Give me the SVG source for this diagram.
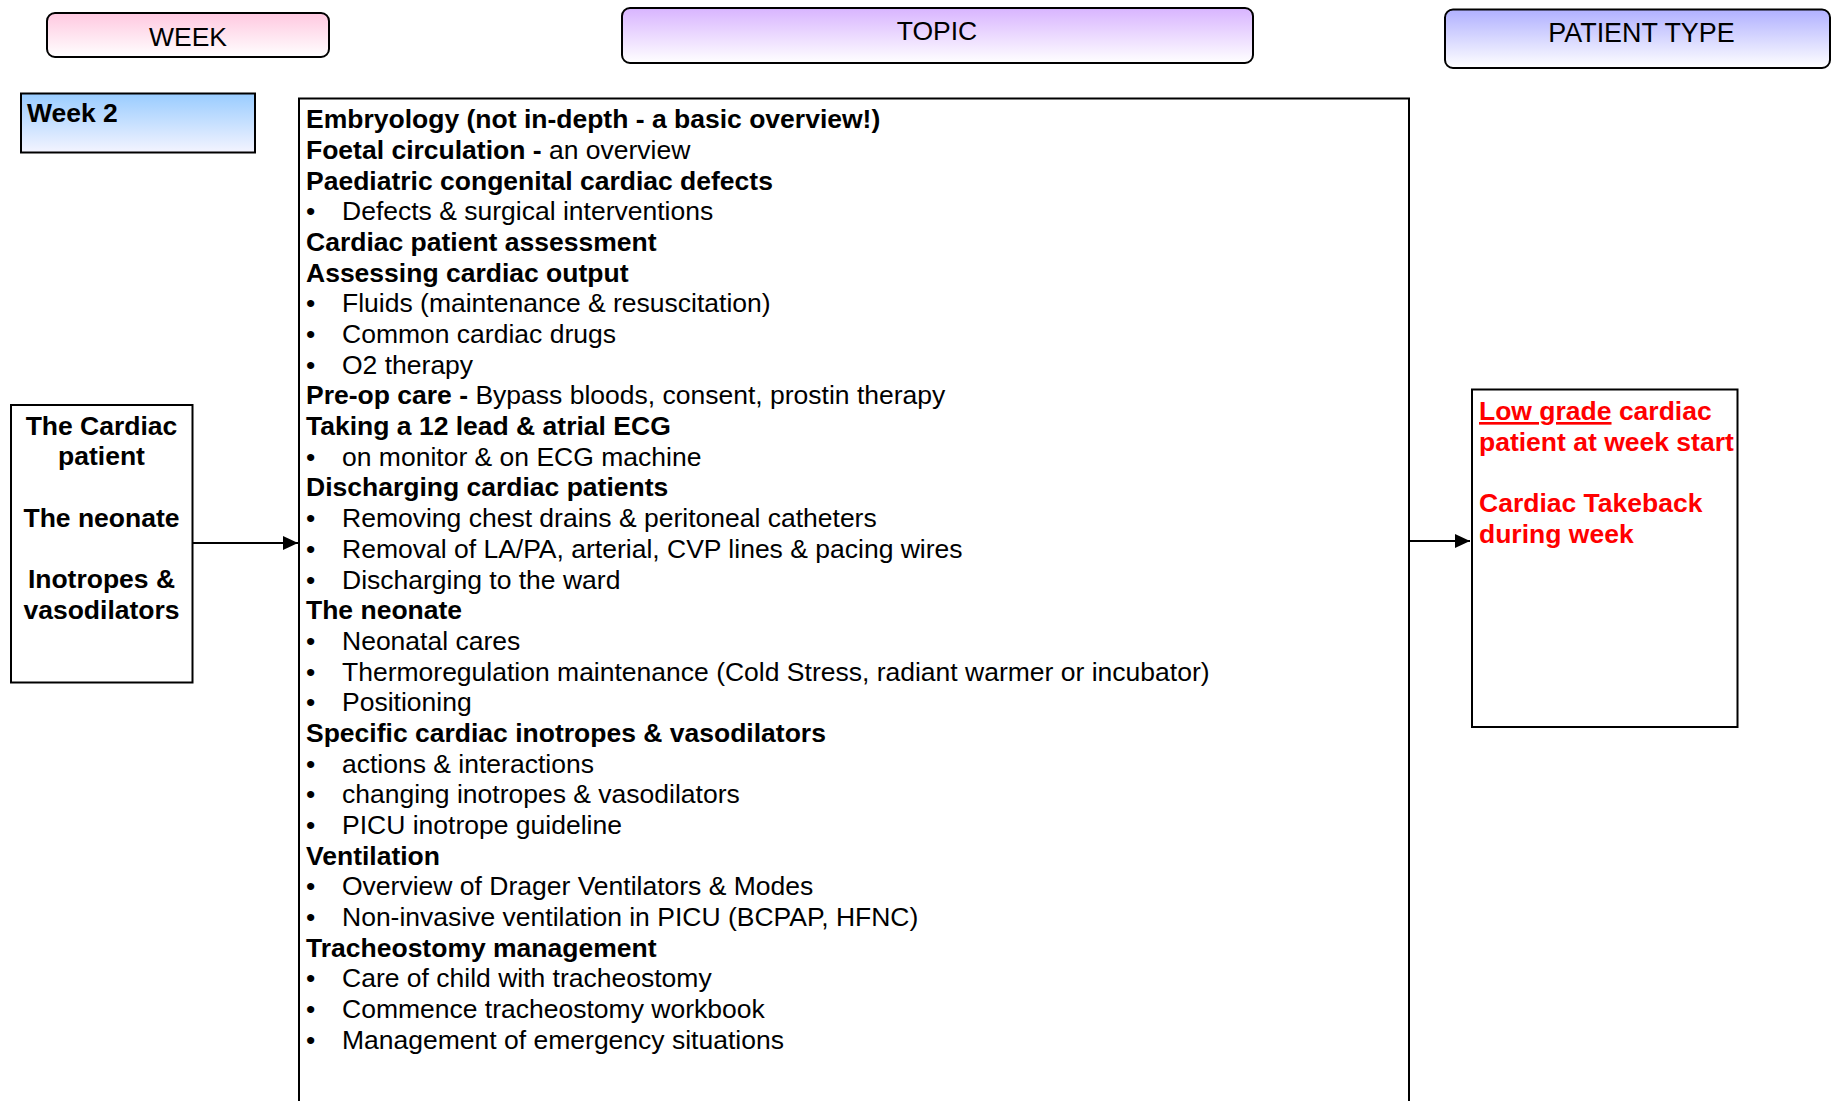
<svg xmlns="http://www.w3.org/2000/svg" width="1832" height="1101" viewBox="0 0 1832 1101">
<style>
text{font-family:"Liberation Sans",Arial,sans-serif;font-size:26.5px;fill:#000}
.b{font-weight:bold}
.r{fill:#ff0000;font-weight:bold}
.m{text-anchor:middle}
.box{fill:#fff;stroke:#000;stroke-width:2}
.hdr{stroke:#000;stroke-width:2}
.c{stroke:#000;stroke-width:2;fill:none}
</style>
<defs>
<linearGradient id="gPink" x1="0" y1="0" x2="0" y2="1"><stop offset="0" stop-color="#ffc8e0"/><stop offset="1" stop-color="#ffffff"/></linearGradient>
<linearGradient id="gPurple" x1="0" y1="0" x2="0" y2="1"><stop offset="0" stop-color="#d8b4ff"/><stop offset="1" stop-color="#ffffff"/></linearGradient>
<linearGradient id="gBlue" x1="0" y1="0" x2="0" y2="1"><stop offset="0" stop-color="#b0b0ff"/><stop offset="1" stop-color="#ffffff"/></linearGradient>
<linearGradient id="gSky" x1="0" y1="0" x2="0" y2="1"><stop offset="0" stop-color="#99ccff"/><stop offset="1" stop-color="#f4f4ff"/></linearGradient>
<marker id="ah" markerUnits="userSpaceOnUse" markerWidth="15" markerHeight="14" refX="15" refY="7" orient="auto"><path d="M0,0 L15,7 L0,14 z" fill="#000"/></marker>
</defs>

<g id="hdr-week">
<rect class="hdr" x="47" y="13" width="282" height="44" rx="8" fill="url(#gPink)"/>
<text class="m" x="188" y="46">WEEK</text>
</g>
<g id="hdr-topic">
<rect class="hdr" x="622" y="8" width="631" height="55" rx="8" fill="url(#gPurple)"/>
<text class="m" x="937" y="39.5">TOPIC</text>
</g>
<g id="hdr-patient">
<rect class="hdr" x="1445" y="9.5" width="385" height="58.5" rx="8" fill="url(#gBlue)"/>
<text class="m" x="1641.5" y="41.7" style="font-size:26.9px">PATIENT TYPE</text>
</g>

<g id="week2">
<rect x="21" y="93.5" width="234" height="59" fill="url(#gSky)" stroke="#000" stroke-width="2"/>
<text class="b" x="27" y="122">Week 2</text>
</g>

<g id="themes">
<rect class="box" x="11" y="405" width="181.5" height="277.5"/>
<text class="b m" x="101.5" y="434.5">The Cardiac</text>
<text class="b m" x="101.5" y="465.2">patient</text>
<text class="b m" x="101.5" y="526.6">The neonate</text>
<text class="b m" x="101.5" y="588">Inotropes &amp;</text>
<text class="b m" x="101.5" y="618.7">vasodilators</text>
</g>

<g id="topics">
<rect class="box" x="299" y="98.5" width="1110" height="1020"/>
<g transform="translate(0,1.2)">
<text class="b" x="306" y="127">Embryology (not in-depth - a basic overview!)</text>
<text x="306" y="157.7"><tspan class="b">Foetal circulation - </tspan>an overview</text>
<text class="b" x="306" y="188.4">Paediatric congenital cardiac defects</text>
<text x="306" y="219.1">•</text><text x="342" y="219.1">Defects &amp; surgical interventions</text>
<text class="b" x="306" y="249.8">Cardiac patient assessment</text>
<text class="b" x="306" y="280.5">Assessing cardiac output</text>
<text x="306" y="311.1">•</text><text x="342" y="311.1">Fluids (maintenance &amp; resuscitation)</text>
<text x="306" y="341.8">•</text><text x="342" y="341.8">Common cardiac drugs</text>
<text x="306" y="372.5">•</text><text x="342" y="372.5">O2 therapy</text>
<text x="306" y="403.2"><tspan class="b">Pre-op care - </tspan>Bypass bloods, consent, prostin therapy</text>
<text class="b" x="306" y="433.9">Taking a 12 lead &amp; atrial ECG</text>
<text x="306" y="464.6">•</text><text x="342" y="464.6">on monitor &amp; on ECG machine</text>
<text class="b" x="306" y="495.3">Discharging cardiac patients</text>
<text x="306" y="526">•</text><text x="342" y="526">Removing chest drains &amp; peritoneal catheters</text>
<text x="306" y="556.7">•</text><text x="342" y="556.7">Removal of LA/PA, arterial, CVP lines &amp; pacing wires</text>
<text x="306" y="587.4">•</text><text x="342" y="587.4">Discharging to the ward</text>
<text class="b" x="306" y="618">The neonate</text>
<text x="306" y="648.7">•</text><text x="342" y="648.7">Neonatal cares</text>
<text x="306" y="679.4">•</text><text x="342" y="679.4">Thermoregulation maintenance (Cold Stress, radiant warmer or incubator)</text>
<text x="306" y="710.1">•</text><text x="342" y="710.1">Positioning</text>
<text class="b" x="306" y="740.8">Specific cardiac inotropes &amp; vasodilators</text>
<text x="306" y="771.5">•</text><text x="342" y="771.5">actions &amp; interactions</text>
<text x="306" y="802.2">•</text><text x="342" y="802.2">changing inotropes &amp; vasodilators</text>
<text x="306" y="832.9">•</text><text x="342" y="832.9">PICU inotrope guideline</text>
<text class="b" x="306" y="863.6">Ventilation</text>
<text x="306" y="894.3">•</text><text x="342" y="894.3">Overview of Drager Ventilators &amp; Modes</text>
<text x="306" y="925">•</text><text x="342" y="925">Non-invasive ventilation in PICU (BCPAP, HFNC)</text>
<text class="b" x="306" y="955.6">Tracheostomy management</text>
<text x="306" y="986.3">•</text><text x="342" y="986.3">Care of child with tracheostomy</text>
<text x="306" y="1017">•</text><text x="342" y="1017">Commence tracheostomy workbook</text>
<text x="306" y="1047.7">•</text><text x="342" y="1047.7">Management of emergency situations</text>
</g>
</g>

<g id="patient-type">
<rect class="box" x="1472" y="389.5" width="265.5" height="337.5"/>
<text class="r" x="1479" y="420"><tspan text-decoration="underline">Low grade</tspan> cardiac</text>
<text class="r" x="1479" y="450.7">patient at week start</text>
<text class="r" x="1479" y="512">Cardiac Takeback</text>
<text class="r" x="1479" y="542.7">during week</text>
</g>

<g id="connectors">
<line class="c" x1="193" y1="543" x2="298" y2="543" marker-end="url(#ah)"/>
<line class="c" x1="1409" y1="541" x2="1470" y2="541" marker-end="url(#ah)"/>
</g>
</svg>
